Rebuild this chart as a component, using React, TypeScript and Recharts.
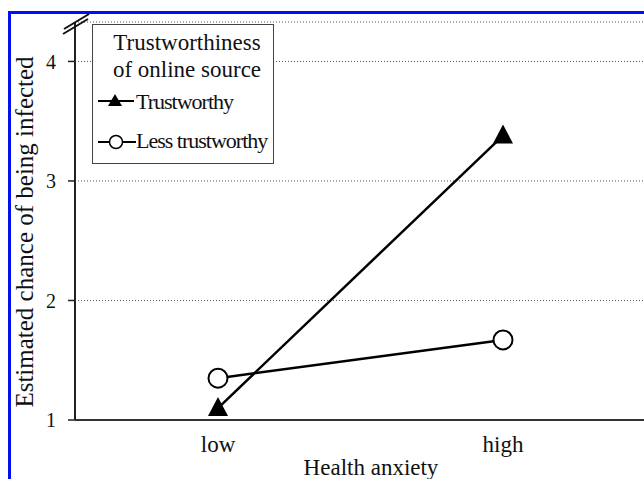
import { CartesianGrid, Legend, Line, LineChart, XAxis, YAxis } from "recharts";

const categories = ["low", "high"];
const trustworthy = [1.1, 3.38];
const lessTrustworthy = [1.35, 1.67];
const yTicks = [1, 2, 3, 4];
const seriesNames = ["Trustworthy", "Less trustworthy"];

const data = categories.map((anxiety, i) => ({
  anxiety,
  trustworthy: trustworthy[i],
  less: lessTrustworthy[i],
}));

const FONT = "'Liberation Serif', 'Times New Roman', serif";

function TriangleDot(props: any) {
  const { cx, cy } = props;
  if (cx == null || cy == null) return null;
  return <polygon points={`${cx},${cy - 11} ${cx - 10},${cy + 8} ${cx + 10},${cy + 8}`} fill="#000" />;
}

function CircleDot(props: any) {
  const { cx, cy } = props;
  if (cx == null || cy == null) return null;
  return <circle cx={cx} cy={cy} r={9.5} fill="#fff" stroke="#000" strokeWidth={2} />;
}

function LegendBox({ payload }: any) {
  const nameOf = (key: string, fallback: string) => {
    const item = (payload || []).find((p: any) => p.dataKey === key);
    return item ? item.value : fallback;
  };
  return (
    <div
      style={{
        width: 182,
        height: 140,
        boxSizing: "border-box",
        border: "1px solid #444",
        background: "#fff",
      }}
    >
      <svg width={180} height={138} style={{ display: "block", fontFamily: FONT }}>
        <text x={94} y={25} textAnchor="middle" fontSize={23} fill="#111">
          Trustworthiness
        </text>
        <text x={94} y={52} textAnchor="middle" fontSize={23} fill="#111">
          of online source
        </text>
        <line x1={5} x2={41} y1={76} y2={76} stroke="#000" strokeWidth={2} />
        <polygon points="22,69 15,81 29,81" fill="#000" />
        <text x={43} y={84} fontSize={22} letterSpacing={-1} fill="#111">
          {nameOf("trustworthy", seriesNames[0])}
        </text>
        <line x1={5} x2={43} y1={117} y2={117} stroke="#000" strokeWidth={2} />
        <circle cx={23} cy={117} r={6.5} fill="#fff" stroke="#000" strokeWidth={1.5} />
        <text x={43} y={123} fontSize={22} letterSpacing={-1} fill="#111">
          {nameOf("less", seriesNames[1])}
        </text>
      </svg>
    </div>
  );
}

export default function App() {
  return (
    <div style={{ position: "absolute", left: 0, top: 0, width: 644, height: 479, background: "#fff", overflow: "hidden" }}>
      <div
        style={{
          position: "absolute",
          left: 8,
          top: 11,
          width: 700,
          height: 500,
          borderTop: "3px solid #0010f0",
          borderLeft: "3px solid #0010f0",
        }}
      />
      <LineChart
        width={652}
        height={479}
        data={data}
        margin={{ top: 22, right: 0, bottom: 29, left: 15 }}
        style={{ position: "absolute", left: 0, top: 0, fontFamily: FONT }}
      >
        <CartesianGrid vertical={false} stroke="#555" strokeWidth={1} strokeDasharray="1 2" />
        <XAxis
          dataKey="anxiety"
          height={30}
          padding={{ left: 143, right: 149 }}
          tickLine={false}
          tickSize={0}
          tickMargin={16}
          axisLine={{ stroke: "#333", strokeWidth: 2 }}
          tick={{ fontSize: 23, fill: "#111", fontFamily: FONT }}
          label={{
            content: () => (
              <text x={371} y={475} textAnchor="middle" fontSize={23} fill="#111" fontFamily={FONT}>
                Health anxiety
              </text>
            ),
          }}
        />
        <YAxis
          width={60}
          domain={[1, 4.33]}
          ticks={yTicks}
          allowDataOverflow
          tickSize={7}
          tickMargin={12}
          axisLine={{ stroke: "#222", strokeWidth: 2 }}
          tickLine={{ stroke: "#222", strokeWidth: 1.5 }}
          tick={{ fontSize: 20, fill: "#111", fontFamily: FONT }}
          label={{
            content: () => (
              <text
                x={33}
                y={232}
                transform="rotate(-90 33 232)"
                textAnchor="middle"
                fontSize={25}
                fill="#111"
                fontFamily={FONT}
              >
                Estimated chance of being infected
              </text>
            ),
          }}
        />
        <Legend
          layout="vertical"
          align="center"
          verticalAlign="middle"
          content={<LegendBox />}
          wrapperStyle={{ position: "absolute", left: 92, top: 24, width: 182, height: 140 }}
        />
        <Line
          dataKey="trustworthy"
          name={seriesNames[0]}
          stroke="#000"
          strokeWidth={2.5}
          dot={<TriangleDot />}
          activeDot={false}
          isAnimationActive={false}
        />
        <Line
          dataKey="less"
          name={seriesNames[1]}
          stroke="#000"
          strokeWidth={2.5}
          dot={<CircleDot />}
          activeDot={false}
          isAnimationActive={false}
        />
      </LineChart>
      <svg width={644} height={479} style={{ position: "absolute", left: 0, top: 0, pointerEvents: "none" }}>
        <line x1={63} y1={34} x2={88} y2={19} stroke="#111" strokeWidth={2} />
        <line x1={64} y1={29} x2={89} y2={14} stroke="#111" strokeWidth={2} />
      </svg>
    </div>
  );
}
